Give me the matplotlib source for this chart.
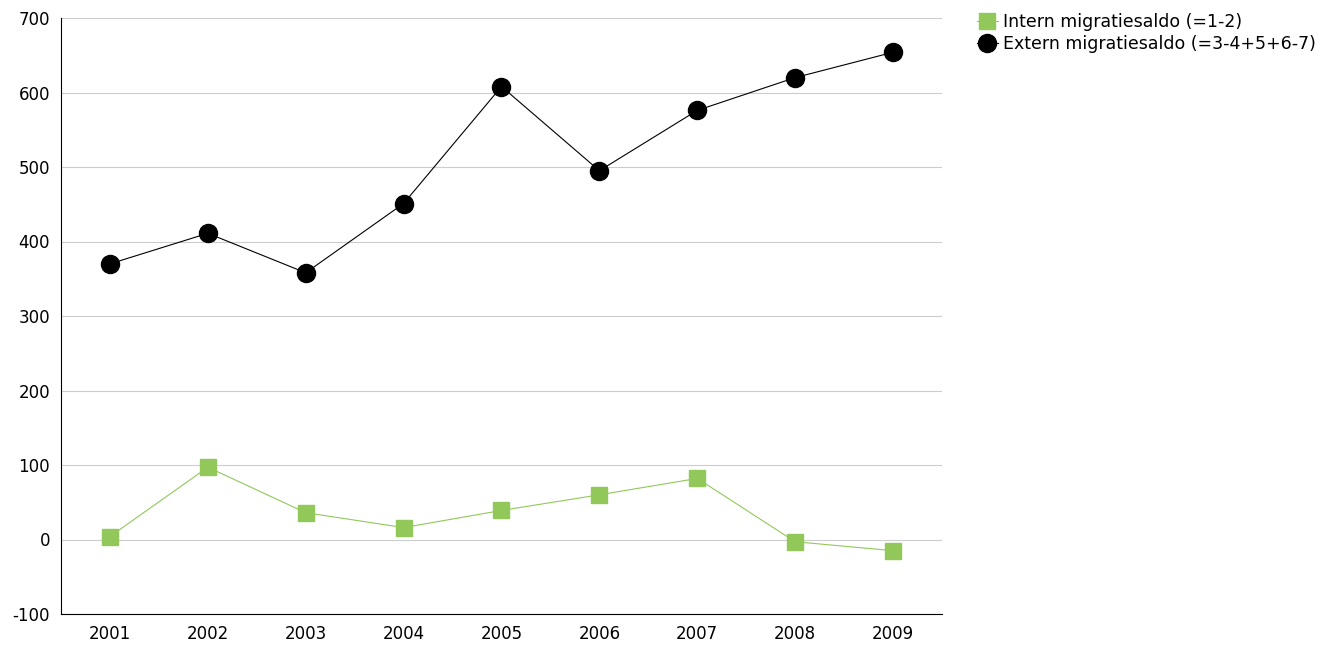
import matplotlib.pyplot as plt

plt.rcParams['axes.unicode_minus'] = False

years = ['2001', '2002', '2003', '2004', '2005', '2006', '2007', '2008', '2009']
intern = [4, 97, 36, 16, 39, 60, 82, -3, -15]
extern = [370, 411, 358, 451, 608, 495, 576, 620, 654]

fig = plt.figure(figsize=(13.36, 6.47), dpi=100)
ax = fig.add_axes([61 / 1336, 1 - 614 / 647, (942 - 61) / 1336, (614 - 18) / 647])

x = range(len(years))
l1, = ax.plot(x, intern, color='#92c85a', lw=0.8, marker='s', ms=11,
              label='Intern migratiesaldo (=1-2)')
l2, = ax.plot(x, extern, color='black', lw=0.8, marker='o', ms=13,
              label='Extern migratiesaldo (=3-4+5+6-7)')

ax.set_xlim(-0.5, len(years) - 0.5)
ax.set_ylim(-100, 700)
ax.set_yticks(range(-100, 701, 100))
ax.set_xticks(list(x))
ax.set_xticklabels(years)
ax.grid(axis='y', color='#cccccc', lw=0.8)
ax.set_axisbelow(True)
for s in ['top', 'right']:
    ax.spines[s].set_visible(False)
ax.tick_params(length=0, labelsize=12, pad=8)

fig.legend(handles=[l1, l2], loc='upper left', bbox_to_anchor=(970 / 1336, 1 - 6 / 647),
           frameon=False, fontsize=12.5, handlelength=1.2, handletextpad=0.3,
           labelspacing=0.25, borderaxespad=0)

fig.savefig('out.png', dpi=100)
